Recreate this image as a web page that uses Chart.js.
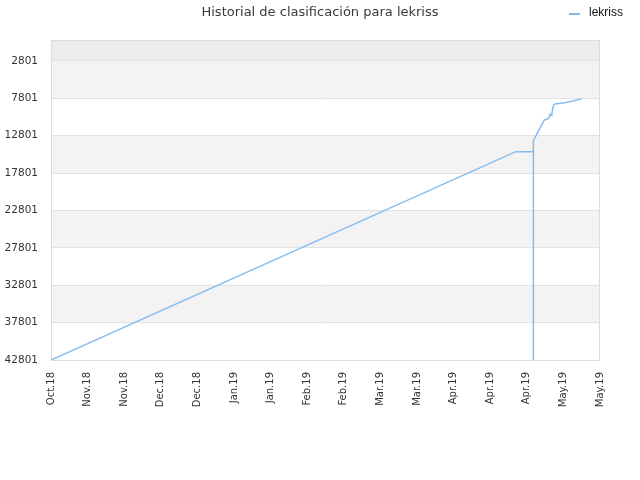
<!DOCTYPE html>
<html>
<head>
<meta charset="utf-8">
<script src="https://cdn.jsdelivr.net/npm/chart.js@4/dist/chart.umd.min.js"></script>
<style>
  html, body { margin: 0; padding: 0; background: #fff; }
  canvas { display: block; }
</style>
</head>
<body>
<canvas id="rankChart" width="640" height="480"></canvas>
<script>
// tick labels along the bottom (one every ~2 weeks)
const tickLabels = ['Oct.18', 'Nov.18', 'Nov.18', 'Dec.18', 'Dec.18', 'Jan.19', 'Jan.19', 'Feb.19',
                    'Feb.19', 'Mar.19', 'Mar.19', 'Apr.19', 'Apr.19', 'Apr.19', 'May.19', 'May.19'];
const rankTicks = [2801, 7801, 12801, 17801, 22801, 27801, 32801, 37801, 42801];

// position along the date axis (in tick steps) and the ranking at that moment
const pointPos = [0, 12.70, 13.18, 13.18, 13.18, 13.48, 13.55, 13.61, 13.64, 13.68, 13.70, 13.73, 13.77, 14.04, 14.23, 14.51];
const rankValues = [42801, 14936, 14936, 42801, 13465, 10695, 10602, 10334, 9893, 10067, 9451, 8728, 8555, 8380, 8193, 7841];

const playerName = 'lekriss';
const lineColor = 'rgb(132, 188, 242)';

// alternating background bands + frame around the plot
const bandsPlugin = {
    id: 'bands',
    beforeDraw(chart) {
        let ctx = chart.ctx;
        let area = chart.chartArea;
        let y = chart.scales.y;
        let edges = [y.min].concat(rankTicks);
        ctx.save();
        for (let i = 0; i < edges.length - 1; i++) {
            let top = y.getPixelForValue(edges[i]);
            let bottom = y.getPixelForValue(edges[i + 1]);
            let color = i == 0 ? '#ececec' : (i % 2 == 1 ? '#f3f3f3' : '#ffffff');
            ctx.fillStyle = color;
            ctx.fillRect(area.left, top, area.right - area.left, bottom - top);
        }
        ctx.restore();
    },
    beforeDatasetsDraw(chart) {
        let ctx = chart.ctx;
        let area = chart.chartArea;
        ctx.save();
        ctx.strokeStyle = '#dcdcdc';
        ctx.lineWidth = 1;
        ctx.strokeRect(area.left + 0.5, area.top + 0.5, area.right - area.left - 1, area.bottom - area.top);
        ctx.restore();
    },
    afterDraw(chart) {
        // small legend in the top right corner
        let ctx = chart.ctx;
        let ds = chart.data.datasets[0];
        ctx.save();
        ctx.strokeStyle = ds.borderColor;
        ctx.lineWidth = 2;
        ctx.beginPath();
        ctx.moveTo(chart.width - 71, 14);
        ctx.lineTo(chart.width - 60, 14);
        ctx.stroke();
        ctx.fillStyle = '#111';
        ctx.font = '12px "Liberation Sans", Arial, sans-serif';
        ctx.textBaseline = 'middle';
        ctx.textAlign = 'left';
        ctx.fillText(ds.label, chart.width - 51, 13);
        ctx.restore();
    }
};

let points = pointPos.map((p, i) => ({ x: p, y: rankValues[i] }));

let ctx = document.getElementById('rankChart').getContext('2d');
let chart = new Chart(ctx, {
    type: 'line',
    data: {
        datasets: [{
            label: playerName,
            data: points,
            borderColor: lineColor,
            backgroundColor: lineColor,
            borderWidth: 1.5,
            pointRadius: 0,
            tension: 0,
            fill: false
        }]
    },
    options: {
        responsive: false,
        animation: false,
        devicePixelRatio: 1,
        layout: { padding: 0 },
        plugins: {
            legend: { display: false },
            tooltip: { enabled: false },
            title: {
                display: true,
                text: 'Historial de clasificación para ' + playerName,
                color: '#3a3a3a',
                font: { family: '"DejaVu Sans"', size: 13, weight: 'normal', lineHeight: 1.2 },
                padding: { top: 5, bottom: 19.4 }
            }
        },
        scales: {
            x: {
                type: 'linear',
                min: 0,
                max: tickLabels.length - 1,
                grid: { display: false, drawTicks: false },
                border: { display: false },
                ticks: {
                    stepSize: 1,
                    autoSkip: false,
                    minRotation: 90,
                    maxRotation: 90,
                    padding: 12,
                    color: '#333',
                    font: { family: '"DejaVu Sans"', size: 10 },
                    callback: (v) => tickLabels[v]
                },
                afterFit: (s) => { s.height = 120; }
            },
            y: {
                type: 'linear',
                reverse: true,
                min: 0,
                max: 42801,
                grid: { color: '#e2e2e2', drawTicks: false },
                border: { display: false },
                ticks: {
                    padding: 13,
                    color: '#333',
                    font: { family: '"DejaVu Sans"', size: 10.5 },
                    callback: (v) => String(v)
                },
                afterBuildTicks: (s) => { s.ticks = rankTicks.map(v => ({ value: v })); },
                afterFit: (s) => { s.width = 51; }
            },
            y2: {
                position: 'right',
                display: true,
                grid: { display: false, drawTicks: false },
                border: { display: false },
                ticks: { display: false },
                afterFit: (s) => { s.width = 40; }
            }
        }
    },
    plugins: [bandsPlugin]
});
</script>
</body>
</html>
